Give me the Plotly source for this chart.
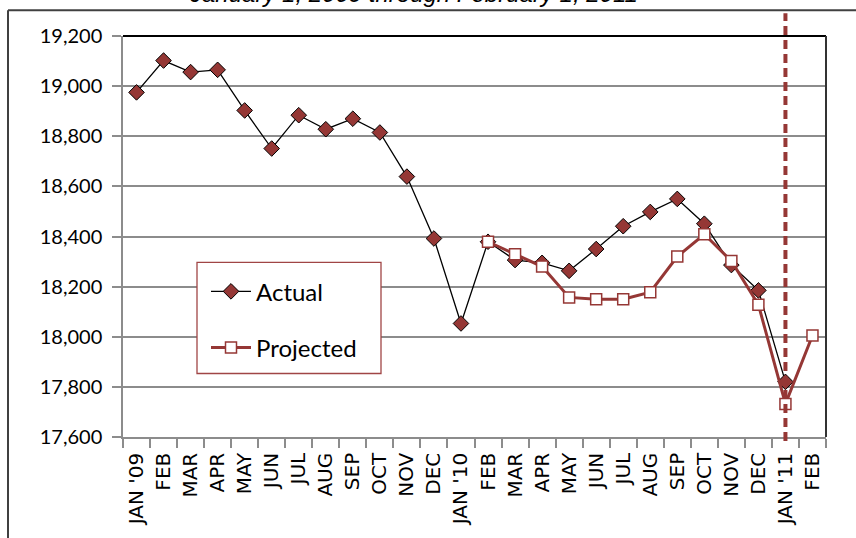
import plotly.graph_objects as go

month_keys = ["JAN '09", "FEB '09", "MAR '09", "APR '09", "MAY '09", "JUN '09", "JUL '09",
              "AUG '09", "SEP '09", "OCT '09", "NOV '09", "DEC '09",
              "JAN '10", "FEB '10", "MAR '10", "APR '10", "MAY '10", "JUN '10", "JUL '10",
              "AUG '10", "SEP '10", "OCT '10", "NOV '10", "DEC '10",
              "JAN '11", "FEB '11"]
tick_labels = ["JAN '09", "FEB", "MAR", "APR", "MAY", "JUN", "JUL", "AUG", "SEP", "OCT", "NOV", "DEC",
               "JAN '10", "FEB", "MAR", "APR", "MAY", "JUN", "JUL", "AUG", "SEP", "OCT", "NOV", "DEC",
               "JAN '11", "FEB"]
actual = [18975, 19102, 19056, 19065, 18903, 18751, 18884, 18828, 18870, 18815, 18639, 18392,
          18053, 18379, 18306, 18295, 18263, 18350, 18441, 18498, 18550, 18451, 18286, 18185,
          17820, None]
projected = [None] * 13 + [18379, 18329, 18280, 18157, 18150, 18150, 18178, 18320, 18409,
                           18302, 18128, 17732, 18005]
y_ticks = [17600, 17800, 18000, 18200, 18400, 18600, 18800, 19000, 19200]
title_text = "January 1, 2009 through February 1, 2011"
cutoff_month = "JAN '11"

RED = "#953735"
GRID = "#8c8c8c"

fig = go.Figure()
fig.add_trace(go.Scatter(
    x=month_keys, y=actual, name="Actual", mode="lines+markers",
    line=dict(color="black", width=1.3),
    marker=dict(symbol="diamond", size=12, color=RED, line=dict(color="black", width=1)),
    legendgroup="a", connectgaps=False,
))
fig.add_trace(go.Scatter(
    x=month_keys, y=projected, name="Projected", mode="lines+markers",
    line=dict(color=RED, width=3),
    marker=dict(symbol="square", size=11, color="white", line=dict(color=RED, width=1.5)),
    legendgroup="p", connectgaps=False,
))

W, H = 856, 538
L, T = 123, 36
R = W - 826
B = H - 440
pw, ph = W - L - R, H - T - B

def px(xs):
    return (xs - L) / pw

def py(ys):
    return (H - B - ys) / ph

shapes = [
    # outer frame (left & top)
    dict(type="line", xref="paper", yref="paper", x0=px(8), x1=px(8), y0=py(10), y1=py(600),
         line=dict(color="#404040", width=2)),
    dict(type="line", xref="paper", yref="paper", x0=px(8), x1=px(900), y0=py(10), y1=py(10),
         line=dict(color="#404040", width=2)),
    # plot area top & right border
    dict(type="line", xref="paper", yref="paper", x0=0, x1=1, y0=1, y1=1,
         line=dict(color="black", width=2)),
    dict(type="line", xref="paper", yref="paper", x0=1, x1=1, y0=0, y1=1,
         line=dict(color="#333333", width=2)),
    # legend box
    dict(type="rect", xref="paper", yref="paper", x0=px(197), x1=px(381), y0=py(264), y1=py(376),
         line=dict(color="#a04545", width=1.3), fillcolor="white", layer="above"),
    # cutoff dashed line
    dict(type="line", xref="x", yref="paper", x0=cutoff_month, x1=cutoff_month, y0=py(444), y1=py(13),
         line=dict(color=RED, width=4, dash="9px,5px"), layer="above"),
]

fig.update_layout(
    width=W, height=H,
    margin=dict(l=L, r=R, t=T, b=B, pad=0),
    paper_bgcolor="white", plot_bgcolor="white",
    shapes=shapes,
    showlegend=True,
    legend=dict(x=px(206), y=py(271), xanchor="left", yanchor="top",
                bgcolor="rgba(0,0,0,0)", borderwidth=0,
                font=dict(family="Lato", size=24, color="black"),
                traceorder="grouped", tracegroupgap=22, itemwidth=40),
    annotations=[dict(text=title_text, xref="paper", yref="paper", x=px(413), y=py(-7),
                      xanchor="center", yanchor="middle", showarrow=False,
                      font=dict(family="Liberation Sans", size=24, style="italic", color="black"))],
)
fig.update_xaxes(
    type="category", categoryorder="array", categoryarray=month_keys,
    tickmode="array", tickvals=month_keys, ticktext=tick_labels,
    tickangle=-90, tickson="boundaries", ticks="outside", ticklen=9, tickcolor=GRID, tickwidth=1.5,
    showline=True, linecolor=GRID, linewidth=1.5, showgrid=False,
    range=[-0.5, len(month_keys) - 0.5],
    tickfont=dict(family="DejaVu Sans", size=20, color="black"),
    ticklabelstandoff=6,
)
fig.update_yaxes(
    range=[17600, 19200], tickmode="array", tickvals=y_ticks, tickformat=",d",
    ticks="outside", ticklen=9, tickcolor=GRID, tickwidth=1.5,
    showline=True, linecolor=GRID, linewidth=1.5,
    showgrid=True, gridcolor=GRID, gridwidth=1.5, zeroline=False,
    tickfont=dict(family="Lato", size=20, color="black"),
    ticklabelstandoff=6,
)
fig.write_html("out.html", config={"displayModeBar": False},
               post_script="document.body.style.margin='0px';")
